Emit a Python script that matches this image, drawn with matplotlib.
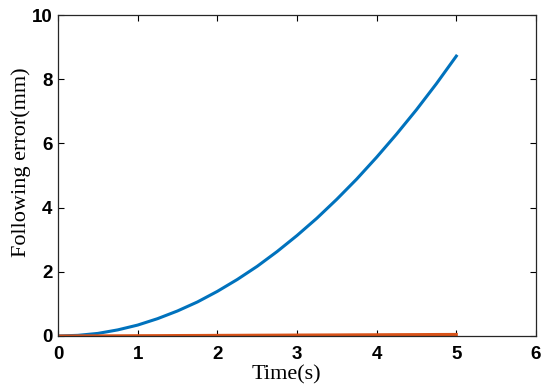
import matplotlib
matplotlib.use('Agg')
import matplotlib.pyplot as plt
import numpy as np

# values
time = [0, 0.25, 0.5, 0.75, 1, 1.25, 1.5, 1.75, 2, 2.25, 2.5, 2.75, 3,
        3.25, 3.5, 3.75, 4, 4.25, 4.5, 4.75, 5]
err_a = [0, 0.02, 0.08, 0.19, 0.34, 0.54, 0.78, 1.06, 1.39, 1.76, 2.17,
         2.63, 3.13, 3.67, 4.26, 4.89, 5.57, 6.29, 7.05, 7.86, 8.72]
err_b = [0, 0.002, 0.004, 0.006, 0.009, 0.011, 0.014, 0.016, 0.019, 0.021,
         0.024, 0.026, 0.029, 0.031, 0.033, 0.036, 0.038, 0.041, 0.043,
         0.046, 0.048]

fig = plt.figure(figsize=(5.5, 3.9), dpi=100)
ax = fig.add_axes([0.1055, 0.1385, 0.869, 0.823])
ax.plot(time, err_a, color='#0072BD', lw=2.2)
ax.plot(time, err_b, color='#D95319', lw=2.2)

ax.set_xlim(0, 6)
ax.set_ylim(0, 10)
ax.set_xticks(range(0, 7))
ax.set_yticks(range(0, 11, 2))
ax.tick_params(direction='in', top=True, right=True, length=4, width=0.8)
ax.tick_params(axis='x', pad=7.5)
ax.tick_params(axis='y', pad=4)
for lab in ax.get_xticklabels() + ax.get_yticklabels():
    lab.set_family('Liberation Sans')
    lab.set_fontweight('bold')
    lab.set_fontsize(13.5)
for s in ax.spines.values():
    s.set_linewidth(0.9)
    s.set_color('#262626')

ax.set_xlabel('Time(s)', family='Liberation Serif', fontsize=16)
ax.set_ylabel('Following error(mm)', family='Liberation Serif', fontsize=16)
ax.xaxis.set_label_coords(0.477, -0.091)
ax.yaxis.set_label_coords(-0.056, 0.54)

fig.savefig('out.png', dpi=100)
